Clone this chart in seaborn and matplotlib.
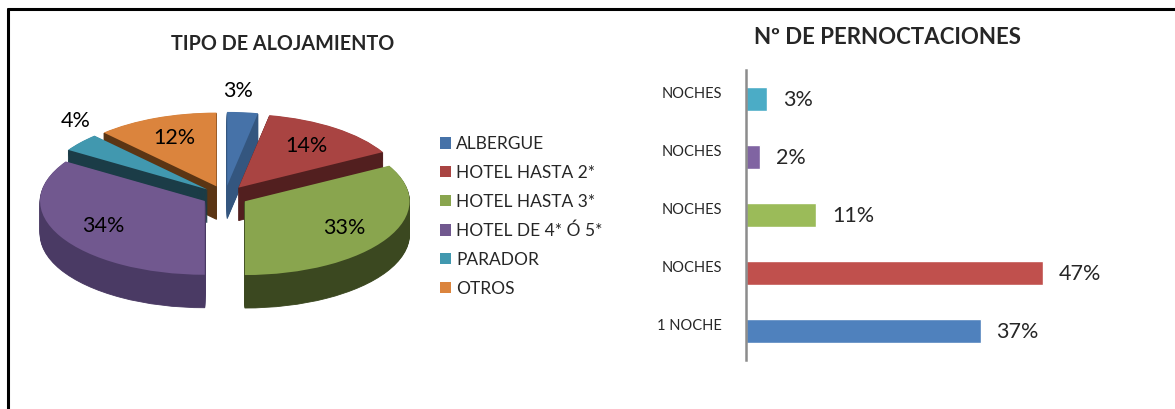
import numpy as np
import pandas as pd
import seaborn as sns
import matplotlib.pyplot as plt
import matplotlib.transforms as mtrans
from matplotlib.lines import Line2D

# pie data (clockwise from 12 o'clock)
tipos = ["ALBERGUE", "HOTEL HASTA 2*", "HOTEL HASTA 3*", "HOTEL DE 4* Ó 5*", "PARADOR", "OTROS"]
tipos_pct = [3, 14, 33, 34, 4, 12]
tipos_top = ["#4672A8", "#A94442", "#89A54E", "#71588F", "#4198AF", "#DB843D"]
tipos_side = ["#34567F", "#521F1F", "#3B4820", "#4A3A64", "#1B3C47", "#5B3514"]

# bar data (top to bottom as shown)
noches = ["NOCHES", "NOCHES", "NOCHES", "NOCHES", "1 NOCHE"]
noches_pct = [3.3, 2.2, 11.1, 47.0, 37.1]
noches_colors = ["#4BACC6", "#8064A2", "#9BBB59", "#C0504D", "#4F81BD"]

sns.set_theme(style="white")
plt.rcParams["font.family"] = ["Lato", "DejaVu Sans"]

W, H = 1175, 409
fig = plt.figure(figsize=(W / 100, H / 100), dpi=100)
fig.patch.set_facecolor("white")

# ---- 3D-ish exploded pie ----
ax1 = fig.add_axes([0, (H - 330) / H, 450 / W, 250 / H])
expl = 0.14
explode = [expl] * len(tipos_pct)
depth = 0.447
n_layers = 36
for k in range(n_layers, 0, -1):
    ax1.pie(tipos_pct, colors=tipos_side, startangle=90, counterclock=False,
            explode=explode, center=(0, -depth * k / n_layers),
            wedgeprops=dict(linewidth=0.6))
    for w, c in zip(ax1.patches[-len(tipos_pct):], tipos_side):
        w.set_edgecolor(c)
wedges, _, autotexts = ax1.pie(tipos_pct, colors=tipos_top, startangle=90, counterclock=False,
                               explode=explode, autopct="%1.0f%%", pctdistance=0.7,
                               wedgeprops=dict(linewidth=0),
                               textprops=dict(fontsize=15.5, color="black"))
# small slices: label just above the outer edge
for w, t, v in zip(wedges, autotexts, tipos_pct):
    if v < 5:
        ang = np.deg2rad((w.theta1 + w.theta2) / 2)
        t.set_position(((1 + expl) * np.cos(ang), (1 + expl) * np.sin(ang)))
        t.set_transform(ax1.transData + mtrans.ScaledTranslation(-5 / 100, 21 / 100, fig.dpi_scale_trans))
ax1.set_aspect("auto")
ax1.set_xlim(-1.366, 1.366)
ax1.set_ylim(-1.816, 1.572)
ax1.axis("off")

fig.text(283 / W, 1 - 44 / H, "TIPO DE ALOJAMIENTO", ha="center", va="center",
         fontsize=14.2, fontweight="bold")

fig.legend(handles=wedges, labels=tipos, loc="upper left",
           bbox_to_anchor=(440 / W, 1 - 136 / H), frameon=False,
           fontsize=12.5, handlelength=0.62, handleheight=0.62, handletextpad=0.3,
           labelspacing=0.74, borderpad=0, borderaxespad=0)

# ---- horizontal bars ----
ax2 = fig.add_axes([746 / W, (H - 360) / H, 354 / W, 290 / H])
df = pd.DataFrame({"pos": range(len(noches)), "pct": noches_pct})
sns.barplot(data=df, x="pct", y="pos", hue="pos", orient="h", palette=noches_colors,
            width=0.41, legend=False, ax=ax2, saturation=1)
ax2.set_xlim(0, 56)
ax2.set_xlabel("")
ax2.set_ylabel("")
ax2.set_xticks([])
ax2.set_yticks(range(len(noches)))
ax2.set_yticklabels(noches, fontsize=10.5)
ax2.tick_params(axis="y", length=0, pad=17.5)
for lab in ax2.get_yticklabels():
    lab.set_transform(lab.get_transform() + mtrans.Affine2D().translate(0, 7))
for s in ["top", "right", "bottom"]:
    ax2.spines[s].set_visible(False)
ax2.spines["left"].set_color("#8C8C8C")
ax2.spines["left"].set_linewidth(1.8)
for i, v in enumerate(noches_pct):
    ax2.annotate(f"{v:.0f}%", (v, i), xytext=(16, -1), textcoords="offset pixels",
                 ha="left", va="center", fontsize=15.5)

fig.text(887 / W, 1 - 38 / H, "Nº DE PERNOCTACIONES", ha="center", va="center",
         fontsize=16, fontweight="bold")

# frame lines
fig.add_artist(Line2D([8 / W, 1.01], [1 - 9 / H, 1 - 9 / H], transform=fig.transFigure,
                      color="black", lw=2.2))
fig.add_artist(Line2D([8 / W, 8 / W], [1 - 9 / H, -0.01], transform=fig.transFigure,
                      color="black", lw=2.2))

fig.savefig("out.png", dpi=100, facecolor="white")
